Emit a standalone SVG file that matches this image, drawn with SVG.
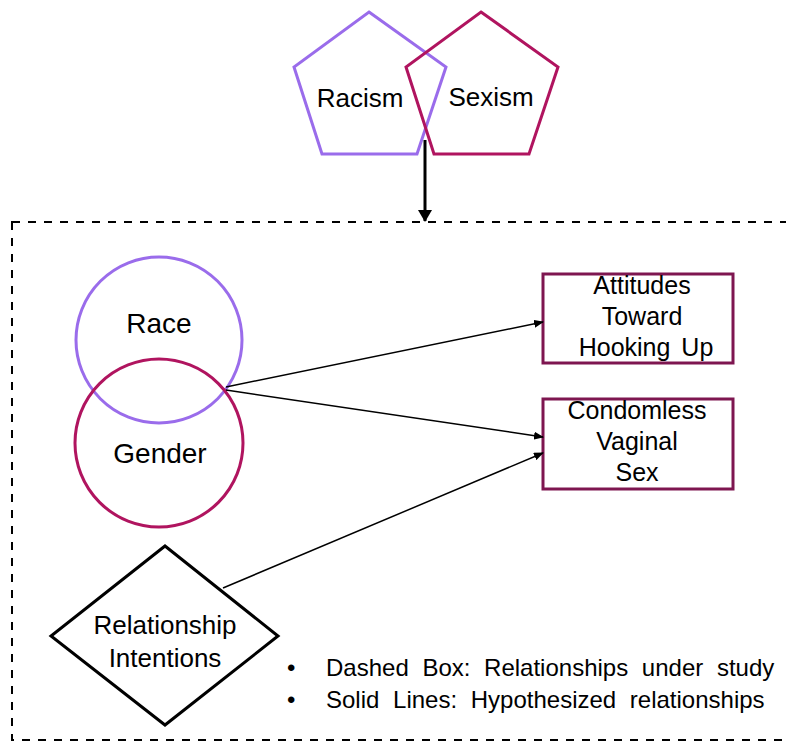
<svg xmlns="http://www.w3.org/2000/svg" width="786" height="742" viewBox="0 0 786 742">
<defs>
<style>
text{font-family:"Liberation Sans",Arial,sans-serif;fill:#000;}
.lbl{font-size:26px;text-anchor:middle;}
.big{font-size:28px;text-anchor:middle;}
.box{font-size:25px;text-anchor:middle;}
.dia{font-size:26px;text-anchor:middle;}
.leg{font-size:24px;word-spacing:7px;}
.purple{fill:none;stroke:#9A6CEB;stroke-width:3;}
.magenta{fill:none;stroke:#B0145F;stroke-width:3;}
.rect{fill:none;stroke:#7E1650;stroke-width:3;}
.conn{stroke:#000;stroke-width:1.5;fill:none;}
</style>
<marker id="ah" markerWidth="10" markerHeight="8" refX="9" refY="4" orient="auto" markerUnits="userSpaceOnUse">
<path d="M0,0 L10,4 L0,8 z" fill="#000"/>
</marker>
<marker id="ahb" markerWidth="12" markerHeight="14" refX="11" refY="7" orient="auto" markerUnits="userSpaceOnUse">
<path d="M0,0 L12,7 L0,14 z" fill="#000"/>
</marker>
</defs>
<rect x="12" y="222" width="790" height="518" fill="none" stroke="#000" stroke-width="2" stroke-dasharray="8,8"/>
<g id="racism">
<polygon class="purple" points="369,12 446,67 417,154 322,154 294,67"/>
<text class="lbl" x="360" y="107">Racism</text>
</g>
<g id="sexism">
<polygon class="magenta" points="481,12 558,67 529,154 434,154 406,67"/>
<text class="lbl" x="491" y="106">Sexism</text>
</g>
<g id="race">
<circle class="purple" cx="159" cy="340" r="83"/>
<text class="big" x="159" y="333">Race</text>
</g>
<g id="gender">
<circle class="magenta" cx="159" cy="443" r="84"/>
<text class="big" x="160" y="463">Gender</text>
</g>
<g id="attitudes">
<rect class="rect" x="543" y="274" width="190" height="89"/>
<text class="box" x="642" y="294">Attitudes</text>
<text class="box" x="642" y="325">Toward</text>
<text class="box" x="646" y="356" style="word-spacing:4px">Hooking Up</text>
</g>
<g id="condomless">
<rect class="rect" x="543" y="399" width="190" height="90"/>
<text class="box" x="637" y="419">Condomless</text>
<text class="box" x="637" y="450">Vaginal</text>
<text class="box" x="637" y="481">Sex</text>
</g>
<g id="intentions">
<polygon points="165,546 278,636 165,725 51,636" fill="none" stroke="#000" stroke-width="3"/>
<text class="dia" x="165" y="634">Relationship</text>
<text class="dia" x="165" y="667">Intentions</text>
</g>
<g id="connectors">
<line x1="425" y1="140" x2="425" y2="221" style="stroke:#000;stroke-width:3" marker-end="url(#ahb)"/>
<line class="conn" x1="226" y1="387" x2="543" y2="322" marker-end="url(#ah)"/>
<line class="conn" x1="226" y1="390" x2="543" y2="437" marker-end="url(#ah)"/>
<line class="conn" x1="223" y1="588" x2="543" y2="453" marker-end="url(#ah)"/>
</g>
<g id="legend">
<text class="leg" x="287" y="676">•</text>
<text class="leg" x="326" y="676">Dashed Box: Relationships under study</text>
<text class="leg" x="287" y="708">•</text>
<text class="leg" x="326" y="708">Solid Lines: Hypothesized relationships</text>
</g>
</svg>
